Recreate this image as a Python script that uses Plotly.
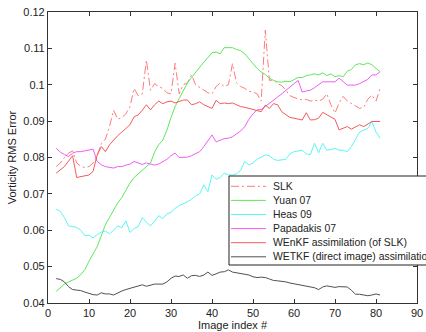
import plotly.graph_objects as go

image_index = list(range(2, 82))

slk = [0.0775, 0.0785, 0.0800, 0.0812, 0.0818, 0.0785, 0.0776, 0.0772, 0.0775, 0.0785,
       0.0805, 0.0838, 0.0850, 0.0885, 0.0930, 0.0905, 0.0910, 0.0920, 0.0940, 0.0990,
       0.0970, 0.0975, 0.1068, 0.0985, 0.1003, 0.0995, 0.0990, 0.0978, 0.0975, 0.1059,
       0.0975, 0.1000, 0.1005, 0.1027, 0.1000, 0.0992, 0.0985, 0.0978, 0.0975, 0.0995,
       0.1005, 0.0995, 0.1000, 0.1058, 0.1005, 0.0995, 0.0990, 0.0982, 0.0980, 0.0975,
       0.0955, 0.1150, 0.1012, 0.1013, 0.1003, 0.0998, 0.0985, 0.0970, 0.0965, 0.0962,
       0.0958, 0.0960, 0.0955, 0.0958, 0.0955, 0.0960, 0.0975, 0.0945, 0.0922, 0.0950,
       0.0968, 0.0955, 0.0948, 0.0940, 0.0935, 0.0938, 0.0960, 0.0972, 0.0955, 0.0990]

yuan = [0.0432, 0.0443, 0.0452, 0.0458, 0.0462, 0.0468, 0.0478, 0.0492, 0.0515, 0.0535,
        0.0555, 0.0585, 0.0615, 0.0635, 0.0655, 0.0675, 0.0690, 0.0712, 0.0730, 0.0745,
        0.0755, 0.0765, 0.0775, 0.0785, 0.0815, 0.0835, 0.0848, 0.0875, 0.0910, 0.0940,
        0.0962, 0.0985, 0.1005, 0.1020, 0.1035, 0.1050, 0.1062, 0.1075, 0.1088, 0.1090,
        0.1085, 0.1102, 0.1103, 0.1102, 0.1097, 0.1094, 0.1085, 0.1070, 0.1058, 0.1045,
        0.1035, 0.1028, 0.1018, 0.1012, 0.1008, 0.1007, 0.1010, 0.1008, 0.1013, 0.1020,
        0.1020, 0.1025, 0.1027, 0.1030, 0.1027, 0.1033, 0.1025, 0.1030, 0.1022, 0.1025,
        0.1022, 0.1037, 0.1042, 0.1055, 0.1058, 0.1055, 0.1060, 0.1055, 0.1045, 0.1036]

heas = [0.0658, 0.0652, 0.0635, 0.0612, 0.0610, 0.0608, 0.0600, 0.0585, 0.0586, 0.0579,
        0.0588, 0.0595, 0.0598, 0.0590, 0.0600, 0.0612, 0.0607, 0.0626, 0.0594, 0.0605,
        0.0610, 0.0635, 0.0622, 0.0612, 0.0625, 0.0640, 0.0632, 0.0645, 0.0649, 0.0660,
        0.0668, 0.0672, 0.0678, 0.0685, 0.0695, 0.0700, 0.0725, 0.0706, 0.0752, 0.0740,
        0.0745, 0.0757, 0.0752, 0.0752, 0.0755, 0.0765, 0.0789, 0.0780, 0.0785, 0.0795,
        0.0800, 0.0807, 0.0805, 0.0795, 0.0792, 0.0793, 0.0795, 0.0810, 0.0816, 0.0818,
        0.0820, 0.0810, 0.0808, 0.0839, 0.0813, 0.0839, 0.0820, 0.0822, 0.0825, 0.0820,
        0.0820, 0.0816, 0.0830, 0.0850, 0.0870, 0.0875, 0.0880, 0.0899, 0.0870, 0.0853]

papadakis = [0.0825, 0.0815, 0.0808, 0.0803, 0.0812, 0.0816, 0.0816, 0.0818, 0.0820, 0.0823,
             0.0789, 0.0780, 0.0775, 0.0772, 0.0771, 0.0775, 0.0775, 0.0779, 0.0782, 0.0789,
             0.0785, 0.0781, 0.0785, 0.0782, 0.0779, 0.0782, 0.0788, 0.0795, 0.0805, 0.0812,
             0.0800, 0.0800, 0.0801, 0.0805, 0.0810, 0.0816, 0.0830, 0.0845, 0.0862, 0.0843,
             0.0848, 0.0852, 0.0853, 0.0857, 0.0865, 0.0873, 0.0885, 0.0905, 0.0920, 0.0931,
             0.0932, 0.0940, 0.0948, 0.0958, 0.0966, 0.0975, 0.0985, 0.0995, 0.1003, 0.1012,
             0.0980, 0.0983, 0.0985, 0.0992, 0.1000, 0.1008, 0.1008, 0.1008, 0.1008, 0.1018,
             0.1008, 0.0999, 0.0999, 0.0999, 0.1003, 0.1008, 0.1015, 0.1027, 0.1027, 0.1036]

wenkf = [0.0757, 0.0765, 0.0775, 0.0790, 0.0805, 0.0745, 0.0747, 0.0748, 0.0752, 0.0762,
         0.0807, 0.0830, 0.0816, 0.0835, 0.0848, 0.0860, 0.0870, 0.0880, 0.0890, 0.0912,
         0.0917, 0.0930, 0.0945, 0.0931, 0.0945, 0.0955, 0.0948, 0.0953, 0.0955, 0.0950,
         0.0955, 0.0958, 0.0958, 0.0945, 0.0948, 0.0953, 0.0945, 0.0940, 0.0935, 0.0957,
         0.0948, 0.0950, 0.0948, 0.0950, 0.0945, 0.0940, 0.0938, 0.0935, 0.0932, 0.0930,
         0.0926, 0.0944, 0.0935, 0.0948, 0.0945, 0.0926, 0.0918, 0.0910, 0.0908, 0.0906,
         0.0903, 0.0923, 0.0903, 0.0904, 0.0908, 0.0924, 0.0918, 0.0910, 0.0905, 0.0876,
         0.0880, 0.0885, 0.0878, 0.0885, 0.0890, 0.0885, 0.0893, 0.0899, 0.0899, 0.0899]

wetkf = [0.0467, 0.0465, 0.0458, 0.0445, 0.0437, 0.0436, 0.0434, 0.0430, 0.0426, 0.0423,
         0.0422, 0.0428, 0.0425, 0.0425, 0.0422, 0.0428, 0.0433, 0.0437, 0.0440, 0.0443,
         0.0446, 0.0450, 0.0446, 0.0450, 0.0452, 0.0452, 0.0452, 0.0458, 0.0468, 0.0474,
         0.0473, 0.0477, 0.0468, 0.0475, 0.0476, 0.0473, 0.0477, 0.0485, 0.0476, 0.0480,
         0.0485, 0.0486, 0.0491, 0.0485, 0.0483, 0.0479, 0.0478, 0.0477, 0.0472, 0.0470,
         0.0471, 0.0470, 0.0466, 0.0462, 0.0461, 0.0460, 0.0458, 0.0455, 0.0453, 0.0452,
         0.0450, 0.0448, 0.0446, 0.0442, 0.0437, 0.0444, 0.0447, 0.0445, 0.0443, 0.0445,
         0.0445, 0.0444, 0.0435, 0.0424, 0.0424, 0.0423, 0.0420, 0.0422, 0.0425, 0.0422]

series_names = ["SLK", "Yuan 07", "Heas 09", "Papadakis 07",
                "WEnKF assimilation (of SLK)", "WETKF (direct image) assimilation"]

x_ticks = [0, 10, 20, 30, 40, 50, 60, 70, 80, 90]
y_ticks = [0.04, 0.05, 0.06, 0.07, 0.08, 0.09, 0.10, 0.11, 0.12]
y_tick_labels = ["0.04", "0.05", "0.06", "0.07", "0.08", "0.09", "0.1", "0.11", "0.12"]

styles = [
    ("#ff7a7a", "8px,3px,2px,3px"),
    ("#5ee85a", "solid"),
    ("#5cf5f5", "solid"),
    ("#f25cf2", "solid"),
    ("#f55a5a", "solid"),
    ("#505050", "solid"),
]
all_series = [slk, yuan, heas, papadakis, wenkf, wetkf]

fig = go.Figure()
for vals, (color, dash), name in zip(all_series, styles, series_names):
    fig.add_trace(go.Scatter(x=image_index, y=vals, mode="lines", name=name,
                             line=dict(color=color, width=1, dash=dash), showlegend=False))

axis_common = dict(showline=True, linecolor="#333333", linewidth=1.2, mirror="ticks",
                   ticks="inside", ticklen=4, tickcolor="#333333", showgrid=False,
                   zeroline=False, automargin=False, ticklabeloverflow="allow",
                   tickfont=dict(size=11, color="#222222"))

# Compact MATLAB-style legend box (paper coordinates), drawn above the lines
plot_left, plot_top, plot_w, plot_h = 48, 12, 369, 291
def px_to_paper_x(px):
    return (px - plot_left) / plot_w
def px_to_paper_y(py):
    return (plot_top + plot_h - py) / plot_h

shapes = [dict(type="rect", xref="paper", yref="paper", layer="above",
               x0=px_to_paper_x(229), x1=px_to_paper_x(440),
               y0=px_to_paper_y(265), y1=px_to_paper_y(176),
               fillcolor="white", line=dict(color="#222222", width=1))]
annotations = []
for i, ((color, dash), name) in enumerate(zip(styles, series_names)):
    ypx = 186.3 + i * 14.1
    shapes.append(dict(type="line", xref="paper", yref="paper", layer="above",
                       x0=px_to_paper_x(231), x1=px_to_paper_x(266),
                       y0=px_to_paper_y(ypx), y1=px_to_paper_y(ypx),
                       line=dict(color=color, width=1, dash=dash)))
    annotations.append(dict(xref="paper", yref="paper", x=px_to_paper_x(271),
                            y=px_to_paper_y(ypx), text=name, showarrow=False,
                            xanchor="left", yanchor="middle",
                            font=dict(size=10.4, color="#222222")))

fig.update_layout(
    width=426, height=332,
    margin=dict(l=48, r=9, t=12, b=29),
    paper_bgcolor="white", plot_bgcolor="white",
    font=dict(family="Liberation Sans, Arial, sans-serif", size=11, color="#222222"),
    xaxis=dict(range=[0, 90], tickvals=x_ticks, title=dict(text="Image index #", standoff=0,
               font=dict(size=11)), **axis_common),
    yaxis=dict(range=[0.04, 0.12], tickvals=y_ticks, ticktext=y_tick_labels,
               title=dict(text="Vorticity RMS Error", standoff=4, font=dict(size=11)),
               **axis_common),
    shapes=shapes,
    annotations=annotations,
    showlegend=False,
)

fig.write_html("out.html", config={"displayModeBar": False},
               post_script="document.body.style.margin='0';document.body.style.overflow='hidden';")
